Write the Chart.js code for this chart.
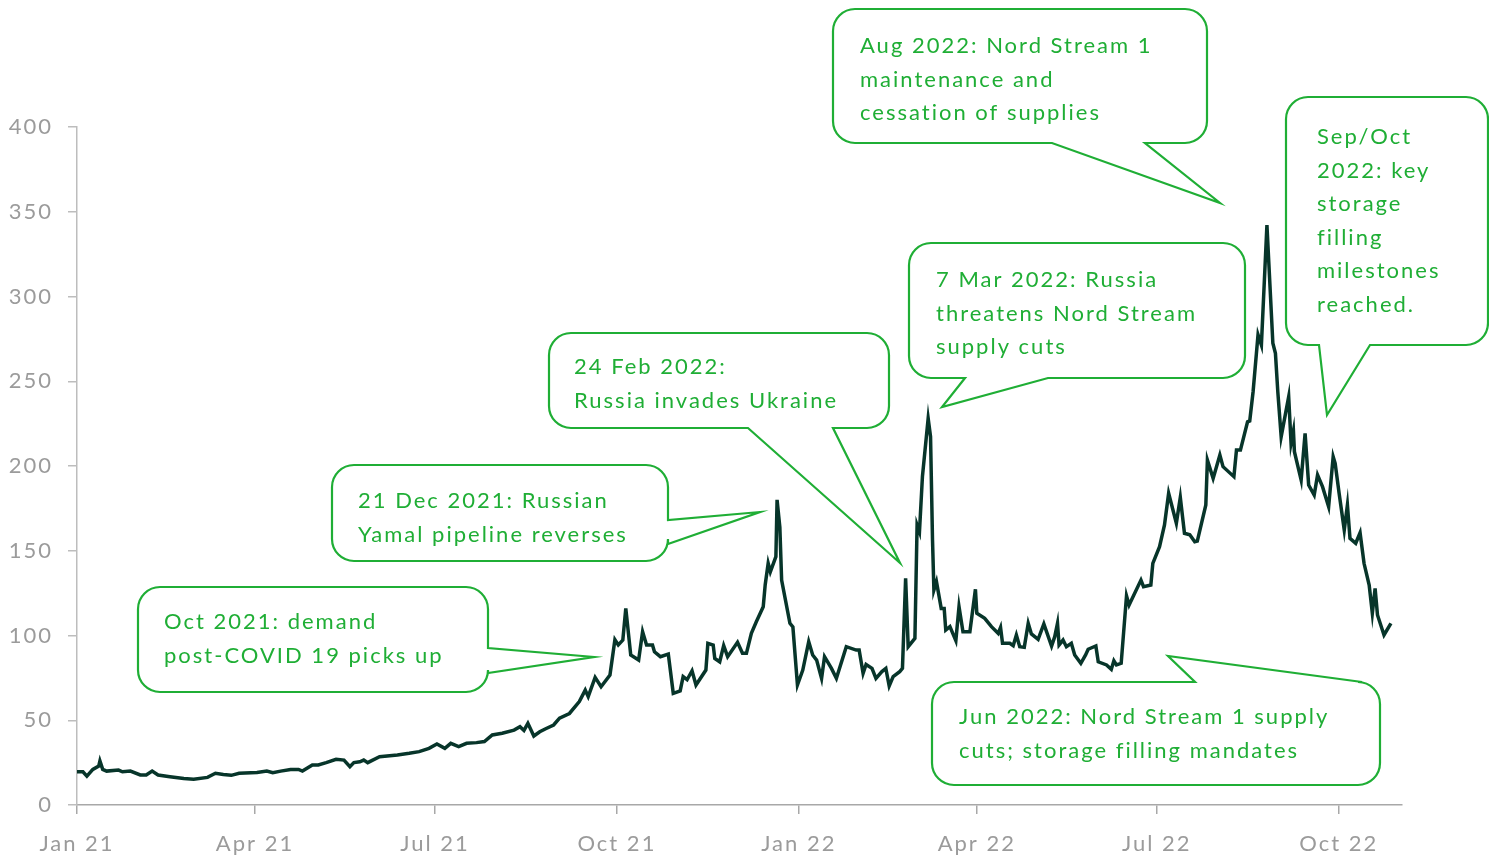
<!DOCTYPE html>
<html>
<head>
<meta charset="utf-8">
<script src="https://cdn.jsdelivr.net/npm/chart.js@4/dist/chart.umd.min.js"></script>
<style>
  html, body { margin: 0; padding: 0; background: #fff; }
  #wrap { width: 1489px; height: 858px; position: relative; }
</style>
</head>
<body>
<div id="wrap"><canvas id="myChart"></canvas></div>
<script>
// days counted from 1 Jan 2021
var days = [
  0, 3, 5, 8, 11, 11.6, 13, 15, 21, 23, 27, 32, 35, 38, 41, 47, 54, 59, 66, 70,
  74, 78, 82, 91, 96, 99, 103, 108, 112, 114, 119, 122, 126, 131, 135, 138, 140, 143, 145, 147,
  153, 162, 168, 173, 178, 182, 186, 189, 193, 197, 202, 206, 210, 215, 221, 224, 226, 228, 231, 234,
  237, 241, 244, 249, 254, 257, 258.5, 262, 265, 269.5, 272, 273.7, 276, 277.5, 280, 284, 286, 288, 291, 292,
  295, 299, 301.5, 305, 306.5, 308.5, 311, 313, 318, 319, 321.7, 322.5, 325, 327, 329, 334, 336.5, 338.5, 341, 343.5,
  347, 348, 349.5, 350.6, 353.4, 354, 355.4, 356.3, 360.5, 362, 364.3, 367, 370, 372, 374, 376.5, 378, 381.5, 384, 389,
  394, 395.5, 397.5, 399, 402, 404, 407, 409, 410.7, 412.7, 416, 417.4, 419, 420.3, 423.7, 424.8, 426, 427.5, 430.4, 431.6,
  432.6, 433.3, 434.6, 437, 438.5, 439.3, 441.4, 444.4, 446, 448, 451.5, 454.3, 455, 459, 462.4, 465.8, 467, 468, 471.7, 473.4,
  475, 476.7, 479, 481, 482.6, 486, 488.9, 492.8, 494.4, 495.8, 496.6, 498.6, 500.3, 502.8, 504.5, 507.6, 510, 511.3, 515.2, 516.4,
  520.6, 523, 524.3, 525.6, 528, 530.7, 532, 538, 539.3, 543, 544, 547.4, 549.9, 552, 555.9, 557.9, 560, 562.7, 565.2, 566.5,
  570.8, 571.6, 574.5, 577.9, 579.5, 585, 586.3, 588.3, 591.9, 593, 594.7, 597.2, 598.9, 601.7, 604.7, 606, 607.2, 608.9, 612.7, 613.9,
  615.1, 615.6, 619, 621, 622.8, 625.6, 627.3, 629.8, 632.9, 635.2, 636.2, 638.2, 640.8, 642.4, 643.7, 646.6, 648.8, 650.8, 653.4, 655,
  656.4, 657.6, 660.9, 664.4
];
var prices = [
  19.6, 19.6, 17, 21, 23, 26, 21, 20, 20.6, 19.6, 20, 17.7, 17.7, 20, 17.7, 16.7, 15.7, 15.2, 16.3, 18.7,
  18, 17.5, 18.7, 19.2, 20, 19, 20, 21, 21, 20, 23.6, 23.6, 25, 27, 26.5, 22.6, 25, 25.5, 26.5, 25,
  28.5, 29.5, 30.5, 31.5, 33.4, 36, 33.4, 36.4, 34.4, 36.4, 36.8, 37.4, 41.3, 42.3, 44.2, 46.2, 44, 48.2, 40.7, 43.2,
  45, 47.2, 51.2, 54, 61, 67.8, 63.9, 75.3, 69.8, 76.7, 97.5, 94.4, 97.3, 116, 88.5, 85.5, 102.2, 94.4, 94.4, 90.4,
  87.5, 89, 65.9, 67.3, 75.7, 73.9, 79.2, 70.8, 79.6, 95.4, 94.4, 86.5, 84.5, 94, 87.5, 96, 89.5, 89.5, 101.3, 108.1,
  117, 130, 142.6, 137.6, 146.5, 180, 164, 132.7, 107.2, 105, 70.8, 79.6, 96.4, 88.5, 85.5, 74.7, 87.5, 80.6, 74.7, 93.4,
  91.4, 91.4, 77.7, 82.9, 80.6, 74.7, 78.7, 80.6, 70.2, 75.7, 78.7, 80.6, 133.7, 93.4, 98.3, 165.2, 161.2, 193.7, 228.1, 217.3,
  156.3, 126.8, 131.7, 116, 116, 103.2, 105.2, 96.9, 117, 102.2, 102.2, 127.3, 113.1, 110.1, 105.2, 101.3, 104.8, 95.4, 95.4, 94,
  100.3, 93.4, 93, 107.2, 100.9, 97.7, 106.8, 93.8, 99.3, 107.2, 94.4, 97.3, 93.4, 95.4, 88.5, 83.6, 88.5, 91.9, 93.8, 84.5,
  82.6, 80, 85.1, 82.6, 83.6, 123.4, 118, 132.7, 128.8, 129.8, 142.6, 152.4, 165.2, 183.9, 166.2, 181.5, 160.3, 159.4, 155.3, 155.7,
  177, 203.5, 192.7, 206.5, 199.6, 193.7, 209.4, 209.4, 226.1, 226.6, 243.8, 277.5, 271.4, 342.2, 272.4, 266.5, 243.8, 217.3, 240.9, 213.4,
  220.8, 208.4, 191.7, 219.3, 188.8, 182.9, 194.7, 187.8, 176, 205.5, 201.6, 183.9, 162.2, 177, 157.3, 154.4, 160.6, 142.6, 129.8, 113.1,
  127.8, 112.1, 100.3, 107.2
];

var tickDays = [0, 90, 181, 273, 365, 455, 546, 638];
var tickLabels = ['Jan 21', 'Apr 21', 'Jul 21', 'Oct 21', 'Jan 22', 'Apr 22', 'Jul 22', 'Oct 22'];

var notes = [
  { lines: ['Oct 2021: demand', 'post-COVID 19 picks up'] },
  { lines: ['21 Dec 2021: Russian', 'Yamal pipeline reverses'] },
  { lines: ['24 Feb 2022:', 'Russia invades Ukraine'] },
  { lines: ['7 Mar 2022: Russia', 'threatens Nord Stream', 'supply cuts'] },
  { lines: ['Aug 2022: Nord Stream 1', 'maintenance and', 'cessation of supplies'] },
  { lines: ['Sep/Oct', '2022: key', 'storage', 'filling', 'milestones', 'reached.'] },
  { lines: ['Jun 2022: Nord Stream 1 supply', 'cuts; storage filling mandates'] }
];

// callout boxes (pixel layout)
var boxes = [
  { x: 138, y: 587, w: 350, h: 105, side: 'right', a: 648, b: 673, tip: [594, 657], tx: 164, ty: 622 },
  { x: 332, y: 465, w: 336, h: 96, side: 'right', a: 520, b: 544, tip: [760, 512], tx: 358, ty: 501 },
  { x: 549, y: 333, w: 340, h: 95, side: 'bottom', a: 748, b: 833, tip: [900, 563], tx: 574, ty: 367 },
  { x: 909, y: 243, w: 336, h: 135, side: 'bottom', a: 965, b: 1048, tip: [942, 407], tx: 936, ty: 280 },
  { x: 833, y: 9, w: 374, h: 134, side: 'bottom', a: 1052, b: 1145, tip: [1220, 203], tx: 860, ty: 46 },
  { x: 1286, y: 97, w: 202, h: 248, side: 'bottom', a: 1319, b: 1370, tip: [1327, 415], tx: 1317, ty: 137 },
  { x: 932, y: 682, w: 448, h: 103, side: 'top', a: 1195, b: 1362, tip: [1168, 656], tx: 959, ty: 717 }
];

var green = '#1fae35';
var fontFam = 'Lato, "Noto Sans", sans-serif';

function bubblePath(ctx, bx) {
  var x = bx.x, y = bx.y, w = bx.w, h = bx.h, r = 22;
  ctx.beginPath();
  ctx.moveTo(x + r, y);
  if (bx.side === 'top') {
    ctx.lineTo(bx.a, y);
    ctx.lineTo(bx.tip[0], bx.tip[1]);
    ctx.lineTo(bx.b, y);
  }
  ctx.lineTo(x + w - r, y);
  ctx.arcTo(x + w, y, x + w, y + r, r);
  if (bx.side === 'right') {
    ctx.lineTo(x + w, bx.a);
    ctx.lineTo(bx.tip[0], bx.tip[1]);
    ctx.lineTo(x + w, bx.b);
  }
  ctx.lineTo(x + w, y + h - r);
  ctx.arcTo(x + w, y + h, x + w - r, y + h, r);
  if (bx.side === 'bottom') {
    ctx.lineTo(bx.b, y + h);
    ctx.lineTo(bx.tip[0], bx.tip[1]);
    ctx.lineTo(bx.a, y + h);
  }
  ctx.lineTo(x + r, y + h);
  ctx.arcTo(x, y + h, x, y + h - r, r);
  ctx.lineTo(x, y + r);
  ctx.arcTo(x, y, x + r, y, r);
  ctx.closePath();
}

// wider tracking for all text, to match the reference face
var spacingPlugin = {
  id: 'spacing',
  beforeDraw: function (chart) {
    chart.ctx.letterSpacing = '2px';
  }
};

var calloutPlugin = {
  id: 'callouts',
  afterDraw: function (chart) {
    var ctx = chart.ctx;
    ctx.save();
    ctx.letterSpacing = '2px';
    boxes.forEach(function (bx, i) {
      bubblePath(ctx, bx);
      ctx.fillStyle = '#ffffff';
      ctx.fill();
      ctx.lineWidth = 2.2;
      ctx.strokeStyle = green;
      ctx.lineJoin = 'miter';
      ctx.stroke();
      ctx.fillStyle = green;
      ctx.font = '22px ' + fontFam;
      ctx.textBaseline = 'middle';
      ctx.textAlign = 'left';
      notes[i].lines.forEach(function (t, k) {
        ctx.fillText(t, bx.tx, bx.ty + k * 33.5);
      });
    });
    ctx.restore();
  }
};

var points = days.map(function (d, i) { return { x: d, y: prices[i] }; });

var ctx = document.getElementById('myChart').getContext('2d');
var config = {
  type: 'line',
  data: {
    datasets: [{
      data: points,
      borderColor: '#07352a',
      borderWidth: 3.5,
      pointRadius: 0,
      tension: 0,
      fill: false
    }]
  },
  options: {
    responsive: true,
    maintainAspectRatio: false,
    animation: false,
    layout: { padding: { top: 127, right: 87, left: 0, bottom: 0 } },
    plugins: {
      legend: { display: false },
      tooltip: { enabled: false }
    },
    scales: {
      x: {
        type: 'linear',
        min: 0,
        max: 670,
        afterBuildTicks: function (scale) {
          scale.ticks = tickDays.map(function (v) { return { value: v }; });
        },
        afterFit: function (scale) { scale.height = 53; },
        grid: { drawOnChartArea: false, drawTicks: true, tickLength: 9, color: '#a8a8a8', lineWidth: 1.5 },
        border: { color: '#a8a8a8', width: 1.5 },
        ticks: {
          autoSkip: false,
          maxRotation: 0,
          padding: 17,
          color: '#9b9b9b',
          font: { family: fontFam, size: 22 },
          callback: function (v) {
            var i = tickDays.indexOf(v);
            return i >= 0 ? tickLabels[i] : '';
          }
        }
      },
      y: {
        min: 0,
        max: 400,
        afterFit: function (scale) { scale.width = 77; },
        grid: { drawOnChartArea: false, drawTicks: true, tickLength: 9, color: '#bdbdbd', lineWidth: 1.5 },
        border: { color: '#bdbdbd', width: 1.5 },
        ticks: {
          stepSize: 50,
          padding: 15,
          color: '#9b9b9b',
          font: { family: fontFam, size: 22 }
        }
      }
    }
  },
  plugins: [spacingPlugin, calloutPlugin]
};
window.myChart = new Chart(ctx, config);
</script>
</body>
</html>
